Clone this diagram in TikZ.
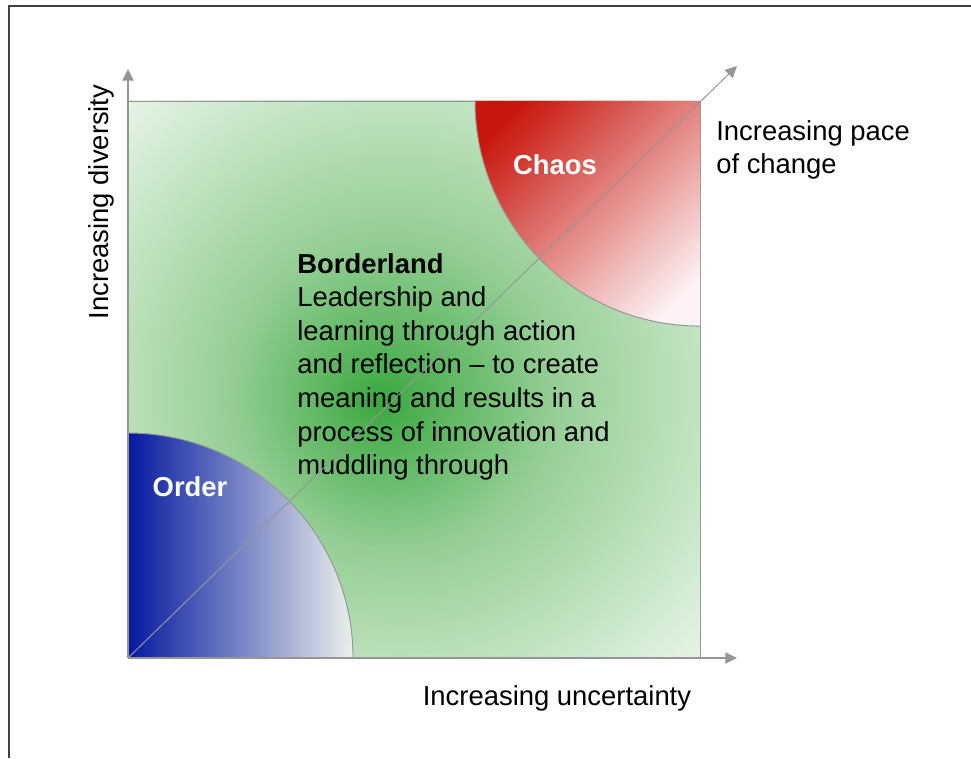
\documentclass[tikz,border=0pt]{standalone}
\usepackage{fontspec}
\setmainfont{Liberation Sans}
\usetikzlibrary{arrows.meta,positioning}
\definecolor{clrFrame}{RGB}{64,64,64}
\definecolor{clrAxis}{RGB}{150,150,150}
\definecolor{glowIn}{RGB}{58,168,64}
\definecolor{glowMid}{RGB}{148,206,148}
\definecolor{glowOut}{RGB}{248,252,248}
\definecolor{orderDark}{RGB}{5,25,160}
\definecolor{orderPale}{RGB}{235,240,235}
\definecolor{chaosDark}{RGB}{200,22,12}
\definecolor{chaosPale}{RGB}{253,242,244}
\pgfdeclareradialshading{borderglow}{\pgfpoint{-3bp}{-2bp}}{color(0bp)=(glowIn); color(14bp)=(glowMid); color(40bp)=(glowOut)}
\pgfdeclarehorizontalshading{orderfade}{100bp}{color(0bp)=(orderDark); color(25bp)=(orderDark); color(75bp)=(orderPale); color(100bp)=(orderPale)}
\pgfdeclareverticalshading{chaosfade}{100bp}{color(0bp)=(chaosPale); color(22bp)=(chaosPale); color(78bp)=(chaosDark); color(100bp)=(chaosDark)}
\tikzstyle{frame_line}=[draw=clrFrame, line width=1.1pt]
\tikzstyle{axis_arrow}=[draw=clrAxis, line width=1pt, -{Triangle[length=0.29cm, width=0.28cm]}]
\tikzstyle{zone_line}=[draw=clrAxis, line width=0.7pt]
\tikzstyle{label_text}=[inner sep=0pt, font=\fontsize{19.5}{23.9}\selectfont]
\tikzstyle{zone_title}=[label_text, text=white, font=\fontsize{19.5}{23.9}\selectfont\bfseries]

\begin{document}
\begin{tikzpicture}[x=0.025cm, y=0.025cm]
		\useasboundingbox (0,0) rectangle (971,758) ;
		\draw[frame_line] (9,0) -- (9,752) -- (971,752) ;

		% axes and corners
		\coordinate (O) at (128,100) ;
		\coordinate (Ytip) at (128,689) ;
		\coordinate (Xtip) at (737,100) ;
		\coordinate (Dtip) at (737,692) ;
		\coordinate (TR) at (700,657) ;

		\shade[shading=borderglow] (O) rectangle (TR) ;
		\draw[zone_line] (O) rectangle (TR) ;

		\shade[shading=orderfade] (O) -- (128,325) arc[start angle=90, end angle=0, radius=5.625cm] -- cycle ;
		\draw[zone_line] (128,325) arc[start angle=90, end angle=0, radius=5.625cm] ;

		\shade[shading=chaosfade, shading angle=45] (TR) -- (475,657) arc[start angle=180, end angle=270, radius=5.625cm] -- cycle ;
		\draw[zone_line] (475,657) arc[start angle=180, end angle=270, radius=5.625cm] ;

		\draw[axis_arrow] (O) -- (Ytip) ;
		\draw[axis_arrow] (O) -- (Xtip) ;

		% texts
		\node[zone_title] (chaos) at (555,593) {Chaos} ;
		\node[zone_title] (order) at (190,271) {Order} ;

		\node[label_text, align=left, anchor=north west] (border) at (297,505) {\textbf{Borderland}\\Leadership and\\learning through action\\and reflection -- to create\\meaning and results in a\\process of innovation and\\muddling through} ;

		\node[label_text, align=left, anchor=north west] (pace) at (716,638) {Increasing pace\\of change} ;
		\node[label_text, anchor=base] (uncert) at (557,53) {Increasing uncertainty} ;
		\node[label_text, anchor=base, rotate=90] (divers) at (108,556) {Increasing diversity} ;

		\draw[axis_arrow, line width=0.7pt] (O) -- (Dtip) ;
	\end{tikzpicture}
\end{document}
